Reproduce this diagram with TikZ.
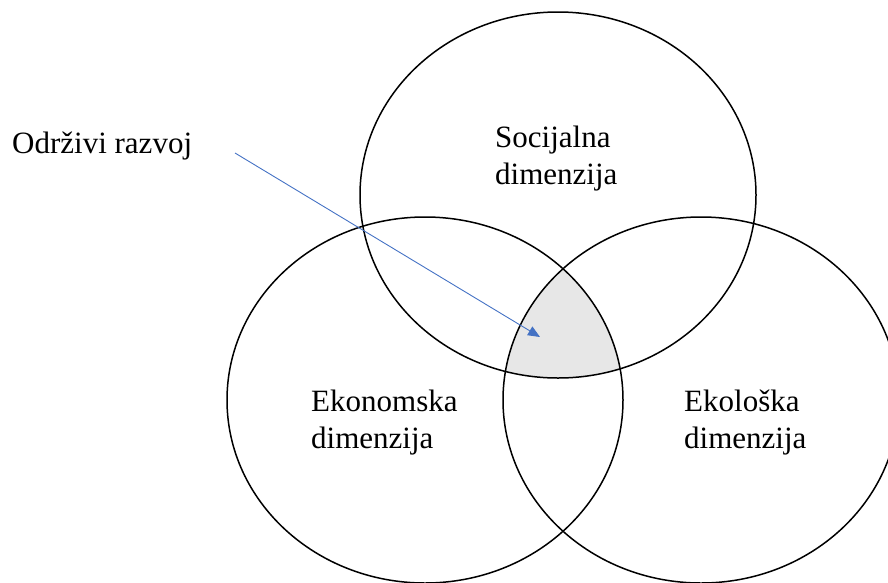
\documentclass[tikz,border=0pt]{standalone}
\usepackage{fontspec}
\setmainfont{Liberation Serif}
\usetikzlibrary{arrows.meta}
\definecolor{overlapgray}{RGB}{231,231,231}
\definecolor{arrowblue}{RGB}{68,114,196}
\tikzset{
  dimension/.style={draw=black, line width=1.5pt},
  label text/.style={font=\fontsize{31}{37}\selectfont, align=left, anchor=base west, inner sep=0pt},
  pointer/.style={draw=arrowblue, line width=0.9pt, -{Triangle[length=12pt,width=10pt]}}
}
\begin{document}
\begin{tikzpicture}[x=1pt,y=-1pt]
  \useasboundingbox (0,0) rectangle (888,582);
  % shared area of all three dimensions
  \begin{scope}
    \clip (558,195) ellipse [x radius=198, y radius=183];
    \clip (425,400) ellipse [x radius=198, y radius=183];
    \fill[overlapgray] (701,400) ellipse [x radius=198, y radius=183];
  \end{scope}
  % the three dimensions
  \draw[dimension] (558,195) ellipse [x radius=198, y radius=183];
  \draw[dimension] (425,400) ellipse [x radius=198, y radius=183];
  \draw[dimension] (701,400) ellipse [x radius=198, y radius=183];
  % labels (anchored at the baseline of their last line)
  \node[label text] (social) at (495,184) {Socijalna\\dimenzija};
  \node[label text] (economic) at (311,448) {Ekonomska\\dimenzija};
  \node[label text] (ecologic) at (684,448) {Ekološka\\dimenzija};
  \node[label text] (sustain) at (12,153) {Održivi razvoj};
  % pointer to the shared area
  \coordinate (ptrstart) at (235,153);
  \coordinate (ptrend) at (540,337);
  \draw[pointer] (ptrstart) -- (ptrend);
\end{tikzpicture}
\end{document}
